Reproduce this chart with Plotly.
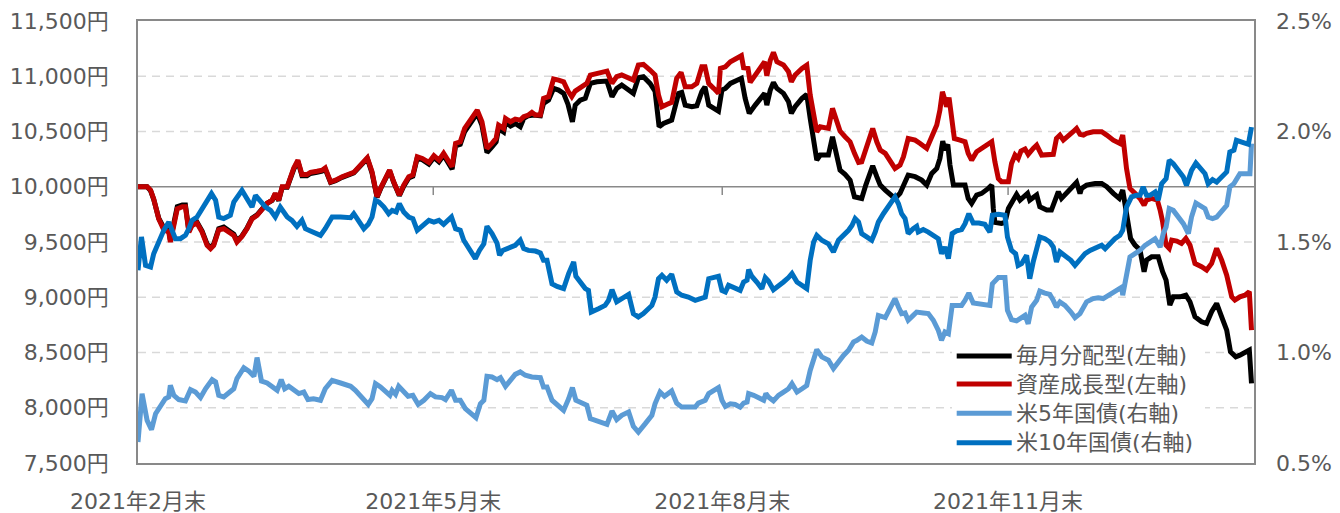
import pandas as pd
import plotly.graph_objects as go

BASE = "2021-02-26"

# 毎月分配型 (左軸, 円) - days since BASE / value
monthly_days = [0, 2.9, 4.0, 5.0, 6.6, 8.2, 9.8, 10.3, 11.4, 12.5, 14.1, 15.1, 16.2, 17.2, 18.8, 20.4, 22.0, 23.1, 24.1, 25.7,
                27.3, 28.9, 30.5, 31.5, 33.1, 34.7, 36.3, 37.9, 39.5, 41.1, 42.7, 43.7, 44.8, 45.9, 47.5, 48.5, 49.6, 50.9, 52.2, 53.8,
                54.9, 57.0, 58.6, 59.6,
                61.3, 62.9, 65.0, 68.7, 70.8, 73.0, 74.5, 75.6, 76.1, 77.2, 78.8, 80.1, 81.4, 83.2, 84.6, 86.2, 87.5, 88.9, 90.5, 92.6,
                94.2, 95.8, 97.3, 98.9, 100.0, 101.1, 102.6, 104.0, 105.8, 108.0, 109.5, 111.1, 112.7, 114.0, 114.8, 116.4, 117.0, 118.6,
                120.1, 121.7, 122.8, 124.3, 125.9, 128.1, 129.1, 130.7, 132.3, 133.9, 135.5, 136.9, 138.3, 139.2, 140.8, 142.4, 144.0,
                146.1, 149.3, 150.9, 152.4, 154.0, 156.2, 157.7, 159.3, 160.9, 163.0, 164.6, 165.9, 167.3, 169.9, 172.1, 173.1, 174.2,
                176.3, 177.9, 179.5, 180.5,
                181.7, 183.3, 184.8, 185.9, 187.0, 188.6, 190.7, 192.1, 193.3, 194.6, 196.5, 198.1, 199.5, 200.2, 201.3, 202.3, 203.4,
                205.5, 207.1, 208.0, 209.2, 211.4, 212.9, 214.0, 215.1, 216.1, 217.2, 219.8, 221.1, 222.5, 223.5, 225.1, 226.7, 228.1,
                229.4, 230.4, 231.7, 232.8, 233.9, 235.2, 236.3, 237.9, 239.5, 241.0,
                242.6, 243.7, 245.2, 247.4, 249.5, 251.1, 252.7, 254.3, 255.3, 256.2, 256.9, 257.8, 258.5, 259.6, 261.7, 263.3, 264.3,
                265.4, 267.0, 268.6, 270.7, 271.8, 272.3, 272.8, 274.9, 276.0, 277.1, 278.6, 279.7, 280.8, 281.8, 283.2, 283.9, 285.0,
                286.1, 287.1, 289.3, 290.8, 292.4, 293.0, 294.0, 295.6, 297.2, 298.8, 299.9,
                300.4, 302.0, 304.7, 306.8, 308.4, 310.5, 312.4, 313.5, 314.2, 315.3, 316.0, 317.4, 319.0, 320.3, 321.1, 322.7, 324.8,
                326.2, 327.3, 328.5, 329.6, 331.7, 333.6, 334.9, 336.5, 338.6, 340.2, 341.8, 343.4, 345.0, 346.6, 347.8, 349.5, 350.8,
                352.4, 353.8, 354.5]
monthly_vals = [10000, 10000, 9965, 9885, 9715, 9630, 9610, 9520, 9670, 9820, 9835, 9835, 9600, 9660, 9680, 9600, 9480, 9450, 9480, 9620,
                9635, 9600, 9570, 9510, 9555, 9625, 9715, 9745, 9800, 9850, 9875, 9935, 9875, 9995, 9995, 10075, 10160, 10230, 10100, 10100,
                10120, 10130, 10140, 10160,
                10040, 10055, 10085, 10125, 10190, 10255, 10125, 9950, 9905, 9980, 10070, 10145, 10040, 9920, 10005, 10080, 10095, 10260,
                10245, 10205, 10265, 10225, 10285, 10205, 10160, 10370, 10385, 10500, 10575, 10665, 10555, 10310, 10360, 10405, 10525,
                10495, 10585, 10550,
                10573, 10543, 10618, 10643, 10649, 10643, 10754, 10784, 10890, 10875, 10845, 10745, 10588, 10739, 10784, 10800, 10935,
                10950, 10956, 10815, 10890, 10920, 10875, 10845, 10987, 10996, 10935, 10866, 10543, 10573, 10603, 10845, 10854, 10739,
                10724, 10733, 10860, 10905,
                10739, 10715, 10685, 10875, 10890, 10935, 10965, 10981, 10800, 10664, 10739, 10800, 10845, 10739, 10875, 10944, 10890,
                10845, 10769, 10664, 10724, 10800, 10836, 10618, 10407, 10241, 10287, 10287, 10453, 10302, 10151, 10112, 10060, 9909,
                9894, 9894, 10015, 10106, 10190, 10091, 10015, 9970, 9925, 9894,
                9940, 10000, 10106, 10091, 10060, 10015, 10121, 10166, 10256, 10413, 10332, 10383, 10196, 10015, 10015, 10015, 9894,
                9849, 9925, 9940, 9985, 10015, 9804, 9677, 9668, 9677, 9804, 9879, 9931, 9879, 9909, 9940, 9879, 9900,
                9925, 9819, 9789, 9789, 9894, 9955, 9894, 9940, 10000, 10039, 9940,
                9985, 10015, 10030, 10030, 10000, 9940, 9894, 9970, 9849, 9653, 9532, 9472, 9427, 9231, 9336, 9366, 9366,
                9231, 9155, 8929, 9004, 9004, 9019, 8959, 8823, 8778, 8763, 8869, 8944, 8823, 8703, 8507, 8461, 8476,
                8507, 8522, 8220]

# 資産成長型 (左軸, 円)
growth_days = [0, 2.9, 4.0, 5.0, 6.6, 8.2, 9.8, 10.3, 11.4, 12.5, 14.1, 15.1, 16.2, 17.2, 18.8, 20.4, 22.0, 23.1, 24.1, 25.7,
               27.3, 28.9, 30.5, 31.5, 33.1, 34.7, 36.3, 37.9, 39.5, 41.1, 42.7, 43.7, 44.8, 45.9, 47.5, 48.5, 49.6, 50.9, 52.2, 53.8,
               54.9, 57.0, 58.6, 59.6,
               61.3, 62.9, 65.0, 68.7, 70.8, 73.0, 74.5, 75.6, 76.1, 77.2, 78.8, 80.1, 81.4, 83.2, 84.6, 86.2, 87.5, 88.9, 90.5, 92.6,
               94.2, 95.8, 97.3, 98.9, 100.0, 101.1, 102.6, 104.0, 105.8, 108.0, 109.5, 111.1, 112.7, 114.0, 114.8, 116.4, 117.0, 118.6,
               120.1, 121.7, 122.8, 124.3, 125.4, 126.5, 128.1, 129.1, 130.7, 132.3, 133.9, 135.5, 136.9, 138.1, 139.2, 141.3, 142.9,
               144.0, 146.1, 149.3, 150.9, 152.4, 154.0, 156.2, 157.7, 159.3, 160.9, 163.0, 164.6, 165.7, 166.8, 168.3, 169.9, 171.5,
               172.9, 174.2, 176.3, 177.9, 179.5, 180.5,
               181.7, 183.3, 184.8, 185.4, 187.0, 188.6, 190.7, 192.1, 192.8, 194.2, 194.9, 196.5, 198.1, 199.5, 200.2, 201.3, 202.3,
               203.4, 205.5, 207.1, 208.0, 209.2, 211.4, 212.9, 214.0, 215.1, 216.1, 217.2, 219.8, 221.1, 222.2, 223.5, 225.1, 226.7,
               228.1, 229.4, 230.4, 231.7, 232.8, 233.9, 235.2, 236.3, 237.9, 239.5, 241.0,
               242.6, 243.7, 245.2, 247.4, 249.0, 251.1, 252.7, 254.3, 255.3, 256.1, 256.9, 257.4, 258.2, 259.0, 259.9, 261.7, 263.3,
               264.3, 265.4, 267.0, 268.6, 270.7, 271.8, 272.8, 273.9, 274.9, 277.1, 278.1, 279.2, 280.2, 281.1, 282.4, 283.4, 285.0,
               286.1, 287.7, 289.8, 291.4, 292.4, 293.5, 294.6, 296.1, 297.7, 298.8, 299.9,
               301.0, 302.0, 304.1, 306.8, 308.4, 310.5, 312.6, 313.5, 314.7, 315.8, 317.4, 319.0, 320.3, 321.1, 322.7, 324.5, 325.4,
               326.2, 327.3, 328.3, 329.1, 330.7, 332.2, 333.6, 334.9, 336.5, 338.6, 340.2, 341.8, 343.4, 345.0, 346.6, 348.2, 349.2,
               350.8, 352.4, 353.8, 354.5]
growth_vals = [10000, 10000, 9970, 9890, 9710, 9610, 9590, 9500, 9650, 9800, 9820, 9820, 9590, 9650, 9670, 9590, 9470, 9440, 9470, 9610,
               9620, 9590, 9560, 9500, 9550, 9620, 9710, 9740, 9800, 9850, 9880, 9940, 9880, 10000, 10000, 10080, 10170, 10240, 10110, 10110,
               10130, 10140, 10150, 10170,
               10045, 10060, 10091, 10130, 10196, 10262, 10136, 9955, 9910, 9985, 10075, 10151, 10045, 9925, 10015, 10091, 10106, 10272,
               10256, 10220, 10281, 10241, 10302, 10226, 10181, 10392, 10407, 10528, 10603, 10694, 10588, 10347, 10392, 10437, 10558,
               10528, 10618, 10588,
               10612, 10603, 10634, 10649, 10673, 10649, 10649, 10800, 10815, 10975, 10965, 10950, 10866, 10815, 10866, 10905, 10935,
               11011, 11026, 11047, 10935, 10996, 11011, 10981, 10965, 11101, 11107, 11056, 11011, 10830, 10724, 10745, 10763, 10981,
               11035, 10905, 10905, 10935, 11086, 11086,
               10935, 10890, 10845, 11071, 11086, 11131, 11168, 11186, 11077, 11071, 10944, 11011, 11077, 11131, 11004, 11146, 11216,
               11131, 11101, 11041, 10950, 11011, 11071, 11101, 10830, 10618, 10498, 10543, 10528, 10709, 10618, 10504, 10453, 10407,
               10302, 10220, 10226, 10332, 10437, 10528, 10407, 10332, 10302, 10241, 10166,
               10196, 10272, 10437, 10422, 10392, 10347, 10453, 10558, 10694, 10860, 10784, 10724, 10806, 10618, 10437, 10422, 10407,
               10302, 10241, 10317, 10347, 10383, 10407, 10226, 10075, 10045, 10045, 10211, 10287, 10256, 10323, 10341, 10293, 10347,
               10377, 10287, 10287, 10293, 10437, 10468, 10422, 10453, 10498, 10528, 10474,
               10468, 10483, 10498, 10498, 10468, 10422, 10392, 10468, 10166, 9985, 9940, 9894, 9834, 9879, 9894, 9879, 9789,
               9683, 9472, 9442, 9517, 9508, 9487, 9532, 9472, 9306, 9276, 9246, 9306, 9442, 9336, 9200, 9004, 8974,
               9004, 9019, 9050, 8703]

# 米5年国債 (右軸, %)
ust5_days = [0, 1.3, 2.9, 4.3, 5.6, 7.2, 8.7, 9.8, 10.3, 11.4, 13.0, 15.1, 16.7, 18.3, 19.9, 21.5, 23.6, 24.7, 25.7, 27.3,
             28.9, 30.5, 31.5, 33.7, 35.3, 36.9, 37.9, 39.3, 41.1, 42.7, 44.3, 45.6, 46.7, 48.0, 49.6, 51.2, 52.8, 54.1, 55.9, 58.1,
             59.6,
             61.8, 64.5, 67.7, 69.2, 71.4, 73.3, 74.5, 75.6, 77.2, 78.8, 80.2, 80.9, 82.0, 83.0, 84.6, 86.0, 87.5, 89.2, 91.0, 93.1,
             94.7, 96.8, 97.9, 99.8, 101.1, 102.6, 104.2, 106.4, 107.6, 109.0, 110.1, 111.1, 112.7, 114.3, 115.4, 117.0, 118.6,
             120.1, 121.7, 123.3, 125.4, 128.1, 129.1, 130.2, 131.8, 133.4, 135.5, 137.1, 138.3, 139.4, 141.3, 142.9, 144.0, 146.6,
             149.3, 150.9, 152.4, 154.0, 156.2, 157.7, 159.3, 161.5, 163.6, 164.6, 166.2, 167.6, 169.9, 171.5, 173.1, 175.2, 177.4,
             178.4,
             180.6, 181.7, 183.3, 184.8, 185.9, 187.0, 188.6, 190.1, 191.7, 192.8, 193.9, 194.4, 196.0, 197.6, 199.2, 199.9, 200.7,
             202.3, 203.9, 205.5, 207.1, 208.2, 209.8, 211.4, 212.9, 214.0, 215.1, 216.1, 217.7, 219.8, 221.4, 223.0, 224.6, 226.2,
             227.8, 228.9, 230.4, 232.0, 233.6, 234.7, 235.7, 237.9, 239.5, 241.0,
             242.1, 243.1, 244.2, 245.2, 246.8, 247.9, 250.0, 251.6, 253.2, 254.8, 255.8, 256.9, 258.0, 259.2, 260.6, 262.2, 263.3,
             264.5, 265.9, 267.7, 269.6, 271.2, 272.0, 273.9, 276.0, 276.8, 278.1, 279.7, 280.8, 282.4, 283.4, 284.5, 286.1, 287.1,
             288.7, 290.3, 291.4, 292.4, 293.5, 295.1, 297.0, 298.3, 299.9,
             302.0, 304.1, 305.7, 307.3, 308.9, 311.0, 313.2, 313.5, 314.7, 315.8, 317.4, 319.0, 320.6, 322.2, 323.8, 325.4, 326.4,
             327.3, 328.3, 329.6, 331.2, 332.8, 334.4, 335.4, 336.8, 338.1, 339.7, 340.7, 342.1, 343.4, 345.0, 346.6, 347.6, 348.9,
             350.8, 352.4, 354.0, 354.5]
ust5_vals = [0.595, 0.814, 0.693, 0.651, 0.723, 0.761, 0.791, 0.799, 0.852, 0.806, 0.787, 0.781, 0.832, 0.821, 0.796, 0.836, 0.877, 0.867,
             0.806, 0.799, 0.817, 0.836, 0.882, 0.931, 0.916, 0.892, 0.977, 0.871, 0.862, 0.844, 0.829, 0.877, 0.836, 0.847, 0.829,
             0.814, 0.821, 0.787, 0.791, 0.784, 0.836,
             0.874, 0.862, 0.847, 0.829, 0.791, 0.765, 0.791, 0.859, 0.844, 0.826, 0.806, 0.829, 0.811, 0.847, 0.821, 0.802, 0.806,
             0.765, 0.784, 0.814, 0.799, 0.796, 0.787, 0.829, 0.784, 0.784, 0.746, 0.723, 0.705, 0.768, 0.784, 0.892, 0.889, 0.877,
             0.886, 0.847, 0.877,
             0.901, 0.912, 0.897, 0.889, 0.886, 0.844, 0.844, 0.784, 0.761, 0.738, 0.791, 0.841, 0.784, 0.771, 0.761, 0.701, 0.686,
             0.675, 0.735, 0.696, 0.716, 0.731, 0.666, 0.640, 0.678, 0.716, 0.768, 0.821, 0.802, 0.826, 0.771, 0.753, 0.753, 0.753,
             0.771,
             0.784, 0.814, 0.829, 0.841, 0.784, 0.756, 0.768, 0.765, 0.753, 0.771, 0.776, 0.814, 0.806, 0.796, 0.784, 0.814, 0.799,
             0.781, 0.806, 0.821, 0.836, 0.859, 0.821, 0.836, 0.851, 0.919, 0.980, 1.013, 0.980, 0.965, 0.927, 0.962, 0.987, 1.010,
             1.048, 1.055, 1.070, 1.052, 1.043, 1.093, 1.168, 1.158, 1.198, 1.244,
             1.206, 1.176, 1.179, 1.146, 1.168, 1.183, 1.179, 1.176, 1.146, 1.100, 1.055, 1.093, 1.085, 1.213, 1.213, 1.213, 1.236,
             1.269, 1.224, 1.221, 1.213, 1.213, 1.311, 1.339, 1.339, 1.191, 1.149, 1.143, 1.153, 1.168, 1.130, 1.206, 1.236, 1.278,
             1.269, 1.263, 1.236, 1.206, 1.229, 1.213, 1.183, 1.158, 1.176,
             1.229, 1.244, 1.248, 1.244, 1.259, 1.281, 1.296, 1.259, 1.364, 1.432, 1.447, 1.462, 1.485, 1.500, 1.515, 1.477, 1.538,
             1.568, 1.651, 1.643, 1.613, 1.583, 1.538, 1.613, 1.676, 1.666, 1.651, 1.613, 1.606, 1.613, 1.636, 1.666, 1.749, 1.764,
             1.809, 1.809, 1.809, 1.945]

# 米10年国債 (右軸, %)
ust10_days = [0, 1.1, 2.4, 4.0, 5.0, 6.6, 8.2, 9.8, 10.9, 11.9, 13.5, 15.1, 16.2, 17.2, 18.8, 20.4, 22.0, 23.4, 24.7, 25.7,
              27.3, 29.4, 30.5, 31.5, 33.1, 34.7, 36.3, 37.4, 39.0, 40.6, 42.2, 43.7, 45.3, 46.4, 47.5, 49.0, 50.6, 52.2, 53.3, 54.9,
              56.5, 58.1, 59.6,
              61.8, 64.5, 67.7, 68.7, 70.3, 71.9, 73.3, 74.5, 75.6, 76.7, 78.3, 79.8, 80.9, 82.2, 83.2, 84.6, 86.2, 87.5, 88.9, 90.5,
              92.6, 94.2, 95.8, 97.3, 98.4, 99.8, 101.1, 102.6, 103.7, 105.3, 107.4, 108.7, 110.1, 111.1, 112.7, 114.3, 115.1, 116.1,
              117.5, 118.6,
              120.1, 121.7, 122.8, 124.3, 126.5, 128.1, 129.1, 130.2, 131.8, 133.4, 135.5, 137.1, 138.7, 139.4, 140.8, 142.4, 143.4,
              144.3, 146.6, 148.7, 149.8, 150.9, 152.4, 154.0, 156.2, 157.7, 159.3, 160.9, 163.6, 164.6, 165.7, 166.8, 168.3, 169.9,
              171.5, 173.1, 175.2, 177.4, 179.0,
              180.6, 181.7, 183.3, 184.8, 185.9, 187.0, 188.0, 189.6, 191.7, 192.8, 193.9, 194.4, 195.4, 197.0, 198.6, 199.7, 200.7,
              202.3, 203.9, 205.5, 207.1, 208.2, 209.8, 211.4, 212.9, 214.0, 215.1, 216.1, 217.7, 219.8, 221.4, 223.0, 224.6, 226.2,
              227.3, 228.3, 229.4, 230.4, 232.0, 233.6, 234.7, 235.7, 237.3, 238.9, 241.0,
              242.1, 243.1, 244.2, 245.2, 246.8, 247.9, 248.4, 250.0, 251.6, 253.2, 254.8, 255.8, 256.9, 258.0, 259.2, 260.6, 262.2,
              263.3, 264.5, 265.9, 267.7, 269.6, 271.2, 272.0, 273.9, 276.0, 276.8, 278.1, 279.4, 280.2, 281.3, 282.9, 283.9, 285.0,
              286.1, 287.1, 288.7, 290.3, 291.4, 292.4, 293.5, 295.1, 297.0, 298.3, 299.9,
              301.5, 303.1, 305.2, 306.8, 307.9, 309.4, 311.0, 312.6, 313.5, 314.7, 316.3, 317.9, 319.0, 320.0, 321.1, 322.2, 323.8,
              324.8, 325.9, 327.3, 328.3, 329.6, 331.2, 332.8, 333.8, 335.4, 336.8, 338.1, 339.7, 340.7, 342.1, 343.4, 345.0, 346.6,
              347.6, 348.9, 349.7, 351.6, 353.5, 354.5]
ust10_vals = [1.372, 1.523, 1.394, 1.387, 1.447, 1.508, 1.553, 1.590, 1.553, 1.515, 1.515, 1.530, 1.560, 1.598, 1.613, 1.651, 1.696, 1.719,
              1.689, 1.613, 1.606, 1.621, 1.681, 1.704, 1.734, 1.696, 1.658, 1.711, 1.681, 1.658, 1.643, 1.613, 1.658, 1.636, 1.613,
              1.598, 1.571, 1.598, 1.560, 1.550, 1.541, 1.530, 1.560,
              1.613, 1.613, 1.610, 1.628, 1.590, 1.560, 1.580, 1.613, 1.689, 1.681, 1.658, 1.628, 1.643, 1.636, 1.673, 1.636, 1.613,
              1.606, 1.553, 1.575, 1.598, 1.590, 1.598, 1.580, 1.598, 1.613, 1.560, 1.553, 1.508, 1.470, 1.425, 1.462, 1.492, 1.571,
              1.538, 1.495, 1.440, 1.462, 1.470, 1.480,
              1.485, 1.508, 1.470, 1.462, 1.459, 1.450, 1.417, 1.417, 1.311, 1.299, 1.289, 1.357, 1.410, 1.345, 1.319, 1.289, 1.281,
              1.183, 1.198, 1.213, 1.236, 1.284, 1.229, 1.244, 1.263, 1.176, 1.161, 1.176, 1.213, 1.251, 1.334, 1.349, 1.327, 1.354,
              1.274, 1.259, 1.251, 1.236, 1.244,
              1.251, 1.334, 1.342, 1.345, 1.281, 1.274, 1.304, 1.296, 1.281, 1.319, 1.327, 1.375, 1.345, 1.319, 1.289, 1.339, 1.324,
              1.284, 1.299, 1.319, 1.339, 1.357, 1.319, 1.304, 1.289, 1.417, 1.500, 1.530, 1.508, 1.492, 1.455, 1.508, 1.530, 1.553,
              1.575, 1.606, 1.590, 1.538, 1.523, 1.508, 1.545, 1.590, 1.628, 1.658, 1.704,
              1.673, 1.628, 1.606, 1.538, 1.560, 1.571, 1.545, 1.556, 1.545, 1.530, 1.515, 1.447, 1.477, 1.425, 1.538, 1.550, 1.556,
              1.583, 1.628, 1.586, 1.586, 1.580, 1.545, 1.621, 1.625, 1.621, 1.523, 1.462, 1.447, 1.394, 1.402, 1.440, 1.334, 1.410,
              1.462, 1.523, 1.515, 1.500, 1.477, 1.410, 1.455, 1.440, 1.417, 1.394, 1.425,
              1.447, 1.462, 1.477, 1.485, 1.470, 1.492, 1.515, 1.530, 1.553, 1.658, 1.704, 1.711, 1.711, 1.749, 1.711, 1.711, 1.726,
              1.689, 1.764, 1.787, 1.870, 1.854, 1.824, 1.794, 1.756, 1.824, 1.857, 1.839, 1.809, 1.764, 1.782, 1.771, 1.794, 1.817,
              1.907, 1.915, 1.960, 1.952, 1.942, 2.020]

tick_dates = ["2021-02-26", "2021-05-31", "2021-08-31", "2021-11-30"]
tick_text = ["2021年2月末", "2021年5月末", "2021年8月末", "2021年11月末"]
grid_levels = [8000, 8500, 9000, 9500, 10500, 11000]


def to_dates(days):
    return pd.Timestamp(BASE) + pd.to_timedelta(days, unit="D")


FONT = "DejaVu Sans, Noto Sans CJK JP, sans-serif"
GRAY = "#898989"
TXT = "#595959"
LW = 5

series = [
    ("毎月分配型(左軸)", monthly_days, monthly_vals, "#000000", "y"),
    ("資産成長型(左軸)", growth_days, growth_vals, "#C00000", "y"),
    ("米5年国債(右軸)", ust5_days, ust5_vals, "#5B9BD5", "y2"),
    ("米10年国債(右軸)", ust10_days, ust10_vals, "#0070C0", "y2"),
]

fig = go.Figure()
for name, days, vals, color, yax in series:
    fig.add_trace(go.Scatter(x=to_dates(days), y=vals, name=name, yaxis=yax, mode="lines",
                             line=dict(color=color, width=LW), showlegend=False))

# dashed grid (all levels except the 10,000 crossing line)
for g in grid_levels:
    fig.add_shape(type="line", xref="paper", x0=0, x1=1, yref="y", y0=g, y1=g,
                  line=dict(color="#D9D9D9", width=1.5, dash="8px,6px"), layer="below")
# axis line crossing at 10,000 with its tick marks
fig.add_shape(type="line", xref="paper", x0=0, x1=1, yref="y", y0=10000, y1=10000,
              line=dict(color=GRAY, width=1.5), layer="below")
for d in tick_dates[1:]:
    fig.add_shape(type="line", x0=d, x1=d, y0=10000, y1=9925, xref="x", yref="y",
                  line=dict(color=GRAY, width=1.5), layer="below")

# legend drawn by hand (white box, line samples, labels)
fig.add_shape(type="rect", xref="paper", yref="paper", x0=0.7294, x1=0.9561, y0=0.0136, y1=0.276,
              fillcolor="white", line=dict(width=0), layer="below")
leg_y = [0.2421, 0.1787, 0.1124, 0.0459]
for (name, _, _, color, _), ly in zip(series, leg_y):
    fig.add_shape(type="line", xref="paper", yref="paper", x0=0.7336, x1=0.7829, y0=ly, y1=ly,
                  line=dict(color=color, width=LW))
    fig.add_annotation(text=name, xref="paper", yref="paper", x=0.7845, y=ly, xanchor="left",
                       yanchor="middle", showarrow=False, font=dict(size=22, color=TXT))

# the page body adds an 8px margin, so the figure is 8px smaller than the window
fig.update_layout(
    width=1332, height=505,
    margin=dict(l=130, r=86, t=13, b=50),
    plot_bgcolor="white", paper_bgcolor="white",
    font=dict(family=FONT, size=22, color=TXT),
    showlegend=False,
    xaxis=dict(type="date", range=["2021-02-26", "2022-02-16 07:00:00"], tickvals=tick_dates, ticktext=tick_text,
               showgrid=False, zeroline=False, showline=True, mirror=True, linecolor=GRAY, linewidth=1.5,
               ticks="", ticklabelstandoff=18, automargin=False),
    yaxis=dict(range=[7500, 11500], tick0=7500, dtick=500, tickformat=",d", ticksuffix="円",
               showgrid=False, zeroline=False, showline=True, mirror=True, linecolor=GRAY, linewidth=1.5,
               ticks="", ticklabelstandoff=23, automargin=False),
    yaxis2=dict(range=[0.5, 2.5], tick0=0.5, dtick=0.5, tickformat=".1f", ticksuffix="%",
                overlaying="y", side="right", showgrid=False, zeroline=False, showline=False,
                ticks="", ticklabelstandoff=21, automargin=False),
)

fig.write_html("out.html")
